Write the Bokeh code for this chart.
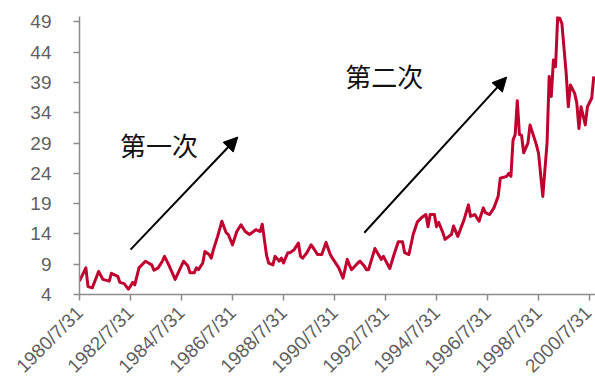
import math
from bokeh.plotting import figure
from bokeh.models import FixedTicker, Label, Arrow, NormalHead, Range1d
from bokeh.embed import file_html
from bokeh.resources import INLINE

# ---- data ----
dates = [
    "1980-07", "1980-10", "1980-11", "1981-01", "1981-04", "1981-06", "1981-09", "1981-10",
    "1982-01", "1982-02", "1982-04", "1982-06", "1982-07", "1982-08", "1982-09", "1982-11",
    "1983-02", "1983-05", "1983-06", "1983-08", "1983-10", "1983-11", "1984-01", "1984-04",
    "1984-08", "1984-10", "1984-11", "1985-01", "1985-02", "1985-03", "1985-05", "1985-06",
    "1985-08", "1985-09", "1985-10", "1985-12", "1986-02", "1986-04", "1986-05", "1986-07",
    "1986-09", "1986-11", "1987-01", "1987-03", "1987-06", "1987-08", "1987-09", "1987-11",
    "1987-12", "1988-02", "1988-03", "1988-05", "1988-06", "1988-07", "1988-09", "1988-10",
    "1988-12", "1989-02", "1989-03", "1989-04", "1989-06", "1989-08", "1989-09", "1989-11",
    "1990-01", "1990-03", "1990-05", "1990-06", "1990-09", "1990-11", "1991-01", "1991-02",
    "1991-03", "1991-06", "1991-07", "1991-09", "1991-10", "1991-11", "1992-02", "1992-05",
    "1992-06", "1992-09", "1992-11", "1993-01", "1993-03", "1993-04", "1993-06", "1993-08",
    "1993-10", "1993-12", "1994-02", "1994-03", "1994-04", "1994-06", "1994-07", "1994-08",
    "1994-10", "1994-11", "1995-02", "1995-03", "1995-05", "1995-08", "1995-10", "1995-11",
    "1996-01", "1996-03", "1996-05", "1996-06", "1996-08", "1996-10", "1996-12", "1997-01",
    "1997-04", "1997-05", "1997-06", "1997-07", "1997-08", "1997-09", "1997-10", "1997-11",
    "1997-12", "1998-02", "1998-03", "1998-06", "1998-07", "1998-09", "1998-11", "1998-12",
    "1999-01", "1999-02", "1999-03", "1999-04", "1999-05", "1999-06", "1999-08", "1999-09",
    "1999-10", "1999-12", "2000-01", "2000-02", "2000-03", "2000-05", "2000-06", "2000-08",
    "2000-09",
]
values = [
    6.2, 8.4, 5.3, 5.1, 7.8, 6.5, 6.2, 7.5,
    7.0, 6.0, 5.8, 4.9, 5.4, 6.0, 5.6, 8.4,
    9.5, 8.9, 8.0, 8.4, 9.5, 10.3, 8.9, 6.5,
    9.5, 8.7, 7.6, 7.6, 8.4, 8.1, 9.2, 11.1,
    10.6, 10.0, 11.4, 13.6, 16.1, 14.2, 13.9, 12.2,
    14.4, 15.5, 14.4, 13.9, 14.7, 14.4, 15.6, 10.5,
    9.2, 8.9, 10.3, 9.5, 10.0, 9.2, 10.9, 10.9,
    11.4, 12.5, 10.3, 10.0, 10.9, 12.2, 11.7, 10.6,
    10.6, 12.6, 10.6, 10.0, 8.4, 6.7, 9.8, 8.9,
    8.1, 9.2, 9.5, 8.7, 8.1, 8.1, 11.6, 9.8,
    10.3, 8.3, 10.6, 12.7, 12.7, 10.9, 10.6, 13.9,
    16.0, 16.7, 17.2, 15.2, 17.2, 17.2, 15.2, 15.9,
    14.2, 13.1, 13.9, 15.3, 13.6, 16.4, 18.8, 16.9,
    17.2, 16.1, 18.3, 17.5, 17.2, 18.3, 20.2, 23.2,
    23.5, 24.0, 23.5, 29.5, 30.4, 36.0, 30.4, 30.3,
    27.4, 29.0, 32.0, 28.7, 27.3, 20.2, 29.0, 40.0,
    36.7, 42.7, 41.6, 49.8, 49.6, 48.7, 40.5, 35.0,
    38.6, 37.2, 35.6, 31.4, 35.0, 32.0, 35.0, 36.4,
    40.0,
]
tick_labels = ["1980/7/31", "1982/7/31", "1984/7/31", "1986/7/31", "1988/7/31",
               "1990/7/31", "1992/7/31", "1994/7/31", "1996/7/31", "1998/7/31", "2000/7/31"]
y_ticks = [4, 9, 14, 19, 24, 29, 34, 39, 44, 49]
notes = ["第一次", "第二次"]


def month_index(s):
    y, m = s.split("-")[:2]
    return (int(y) - 1980) * 12 + (int(m) - 7)


def label_index(s):
    y, m, _ = s.split("/")
    return (int(y) - 1980) * 12 + (int(m) - 7)


xs = [month_index(d) for d in dates]
tick_pos = [label_index(t) for t in tick_labels]

p = figure(width=595, height=387, output_backend="svg", toolbar_location=None,
           x_range=Range1d(0, 242.8), y_range=Range1d(4, 49.9),
           min_border_left=79, min_border_right=0, min_border_top=16, min_border_bottom=92)
p.outline_line_color = None
p.background_fill_color = "white"
p.border_fill_color = "white"
p.xgrid.visible = False
p.ygrid.visible = False

p.line(xs, values, line_color="#C0002F", line_width=3, line_join="round")

axis_color = "#8C8C8C"
label_color = "#5F5F5F"
for ax in (p.xaxis[0], p.yaxis[0]):
    ax.axis_line_color = axis_color
    ax.axis_line_width = 1.5
    ax.major_tick_line_color = axis_color
    ax.major_tick_line_width = 1.5
    ax.major_tick_out = 6
    ax.major_tick_in = 0
    ax.minor_tick_line_color = None
    ax.major_label_text_color = label_color
    ax.major_label_text_font = "Liberation Sans"

p.yaxis.major_label_text_font_size = "19px"
p.xaxis.major_label_text_font_size = "19px"
p.yaxis.ticker = FixedTicker(ticks=y_ticks)
p.yaxis.major_label_standoff = 22
p.xaxis.ticker = FixedTicker(ticks=tick_pos)
p.xaxis.major_label_overrides = {pos: lab for pos, lab in zip(tick_pos, tick_labels)}
p.xaxis.major_label_orientation = math.pi / 4
p.xaxis.major_label_standoff = 9

# annotations
for (tx, ty), txt in zip([(month_index("1982-02"), 28.7), (month_index("1990-12"), 40.2)], notes):
    p.add_layout(Label(x=tx, y=ty, text=txt, text_font="Noto Sans CJK SC",
                       text_font_size="26px", text_color="#111111",
                       text_baseline="middle", text_align="left"))

head = dict(size=14, fill_color="black", line_color="black")
p.add_layout(Arrow(end=NormalHead(**head), x_start=24, y_start=11.4, x_end=74.5, y_end=30.0,
                   line_color="black", line_width=2))
p.add_layout(Arrow(end=NormalHead(**head), x_start=134, y_start=14.2, x_end=201, y_end=39.9,
                   line_color="black", line_width=2))

open("out.html", "w").write(file_html(p, INLINE))
